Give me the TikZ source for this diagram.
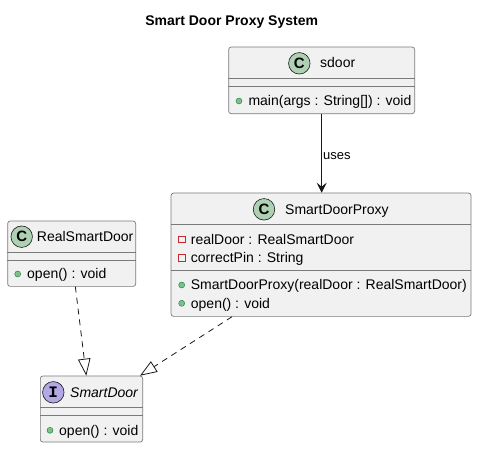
\documentclass[tikz,border=0pt]{standalone}
\usepackage{fontspec}
\setmainfont{Liberation Sans}
\newfontfamily\badgefont{Liberation Mono}
\usetikzlibrary{calc, arrows.meta, positioning}

\definecolor{boxfill}{HTML}{F1F1F1}
\definecolor{boxline}{HTML}{181818}
\definecolor{boxgray}{HTML}{7A7A7A}
\definecolor{classgreen}{HTML}{ADD1B2}
\definecolor{ifacepurple}{HTML}{B4A7E5}
\definecolor{pubfill}{HTML}{84BE84}
\definecolor{publine}{HTML}{038048}
\definecolor{privline}{HTML}{C82930}

\begin{document}
\begin{tikzpicture}[x=1pt, y=-1pt, >=Stealth, font=\fontsize{14}{16}\selectfont]
        % Estilos para cajas, iconos y conexiones
        \tikzstyle{classbox} = [draw=boxgray, line width=0.7pt, fill=boxfill, rounded corners=2.5pt, anchor=north west, inner sep=0pt]
        \tikzstyle{sepline} = [draw=boxgray, line width=0.7pt]
        \tikzstyle{badge} = [draw=boxline, line width=0.6pt, circle, minimum size=21.5pt, inner sep=0pt, font=\fontsize{15}{15}\selectfont\bfseries]
        \tikzstyle{member} = [anchor=base west, inner sep=0pt]
        \tikzstyle{pub} = [circle, draw=publine, line width=0.4pt, fill=pubfill, minimum size=6pt, inner sep=0pt]
        \tikzstyle{priv} = [rectangle, draw=privline, line width=0.6pt, minimum size=6.5pt, inner sep=0pt]
        \tikzstyle{usesline} = [draw=boxline, line width=0.8pt]
        \tikzstyle{implline} = [draw=boxline, line width=0.8pt, dash pattern=on 6pt off 5pt, -{Triangle[open, length=17pt, width=12.5pt]}]

        \useasboundingbox (0,0) rectangle (477,448);
        \node [anchor=base, inner sep=0pt] (title) at (231.7,25) {\bfseries Smart Door Proxy System};

        % Clase sdoor
        \node [classbox, minimum width=186pt, minimum height=66.6pt] (sdoor) at (228.3,46.7) {};
        \draw [sepline] ($(sdoor.north west)+(0,32)$) -- ($(sdoor.north east)+(0,32)$);
        \draw [sepline] ($(sdoor.north west)+(0,39.3)$) -- ($(sdoor.north east)+(0,39.3)$);
        \node [badge, fill=classgreen] (sdoorBadge) at (299.3,63.3) {C};
        \node [member] (sdoorName) at (320,67.7) {sdoor};
        \node [pub] (sdoorIcon1) at (239,101) {};
        \node [member] (sdoorMain) at (248.3,105.5) {main(args : String[]) : void};

        % Clase SmartDoorProxy
        \node [classbox, minimum width=300pt, minimum height=123.3pt] (proxy) at (170.7,192.7) {};
        \draw [sepline] ($(proxy.north west)+(0,31.3)$) -- ($(proxy.north east)+(0,31.3)$);
        \draw [sepline] ($(proxy.north west)+(0,77.3)$) -- ($(proxy.north east)+(0,77.3)$);
        \node [badge, fill=classgreen] (proxyBadge) at (264,209.3) {C};
        \node [member] (proxyName) at (285,214.3) {SmartDoorProxy};
        \node [priv] (proxyIcon1) at (181.7,239.3) {};
        \node [member] (proxyAttr1) at (190.7,244) {realDoor : RealSmartDoor};
        \node [priv] (proxyIcon2) at (181.7,257.7) {};
        \node [member] (proxyAttr2) at (190.7,262.4) {correctPin : String};
        \node [pub] (proxyIcon3) at (181.7,285) {};
        \node [member] (proxyMeth1) at (190.7,289.6) {SmartDoorProxy(realDoor : RealSmartDoor)};
        \node [pub] (proxyIcon4) at (181.7,303.3) {};
        \node [member] (proxyMeth2) at (190.7,308) {open() : void};

        % Clase RealSmartDoor
        \node [classbox, minimum width=128pt, minimum height=65.3pt] (real) at (7.3,220.7) {};
        \draw [sepline] ($(real.north west)+(0,31.6)$) -- ($(real.north east)+(0,31.6)$);
        \draw [sepline] ($(real.north west)+(0,39.3)$) -- ($(real.north east)+(0,39.3)$);
        \node [badge, fill=classgreen] (realBadge) at (21.7,236.7) {C};
        \node [member] (realName) at (36.7,241.5) {RealSmartDoor};
        \node [pub] (realIcon1) at (17.7,274) {};
        \node [member] (realMeth1) at (27,278.6) {open() : void};

        % Interfaz SmartDoor
        \node [classbox, minimum width=102.3pt, minimum height=66pt] (smartdoor) at (40,375.7) {};
        \draw [sepline] ($(smartdoor.north west)+(0,31.6)$) -- ($(smartdoor.north east)+(0,31.6)$);
        \draw [sepline] ($(smartdoor.north west)+(0,39.3)$) -- ($(smartdoor.north east)+(0,39.3)$);
        \node [badge, fill=ifacepurple, font=\fontsize{16}{16}\badgefont\bfseries] (smartdoorBadge) at (53.3,392.3) {I};
        \node [member] (smartdoorName) at (70,397) {\itshape SmartDoor};
        \node [pub] (smartdoorIcon1) at (50,430.3) {};
        \node [member] (smartdoorMeth1) at (59,435) {open() : void};

        % Conexiones entre clases
        \draw [usesline, -{Stealth[length=10pt, width=10pt, inset=4pt]}] (sdoor.south) -- node [right, inner sep=1pt, yshift=-3pt, font=\fontsize{13}{13}\selectfont] {uses} (sdoor.south |- proxy.north);
        \draw [implline] ([xshift=3.7pt]real.south) -- ([xshift=-5.2pt]smartdoor.north);
        \draw [implline] ([xshift=-89pt]proxy.south) -- ([xshift=-3pt]smartdoor.north east);
\end{tikzpicture}
\end{document}
